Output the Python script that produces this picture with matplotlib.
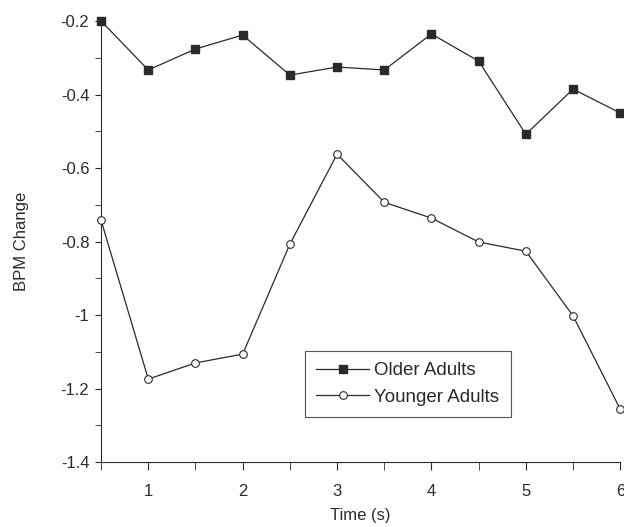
import matplotlib.pyplot as plt
from matplotlib.ticker import MultipleLocator, FixedLocator

plt.rcParams["font.family"] = ["Liberation Sans", "DejaVu Sans"]

# Time points (s)
time = [0.5, 1, 1.5, 2, 2.5, 3, 3.5, 4, 4.5, 5, 5.5, 6]

# BPM change for each group
older = [-0.200, -0.333, -0.276, -0.238, -0.347, -0.325,
         -0.333, -0.235, -0.309, -0.508, -0.385, -0.450]
younger = [-0.742, -1.174, -1.130, -1.106, -0.807, -0.562,
           -0.693, -0.736, -0.801, -0.826, -1.002, -1.256]

col = "#2a2a2a"

fig = plt.figure(figsize=(6.24, 5.27), dpi=100)
ax = fig.add_axes([0.162, 0.123, 0.832, 0.837])

ax.plot(time, older, color=col, lw=0.9, marker="s", ms=5.5,
        mfc=col, mec=col, label="Older Adults", clip_on=False, zorder=3)
ax.plot(time, younger, color=col, lw=0.9, marker="o", ms=5.5,
        mfc="white", mec=col, mew=0.8, label="Younger Adults",
        clip_on=False, zorder=3)

ax.set_xlim(0.5, 6)
ax.set_ylim(-1.4, -0.2)
ax.xaxis.set_major_locator(FixedLocator([1, 2, 3, 4, 5, 6]))
ax.xaxis.set_minor_locator(MultipleLocator(0.5))
ax.yaxis.set_major_locator(MultipleLocator(0.2))
ax.yaxis.set_minor_locator(MultipleLocator(0.1))
ax.set_yticklabels([f"{v:g}" for v in ax.get_yticks()])

for s in ["top", "right"]:
    ax.spines[s].set_visible(False)
for s in ["left", "bottom"]:
    ax.spines[s].set_color(col)
    ax.spines[s].set_linewidth(0.8)

ax.tick_params(which="major", direction="out", length=4.5, width=0.8,
               colors=col, labelsize=12)
ax.tick_params(which="minor", direction="out", length=4, width=0.6,
               colors=col)
ax.tick_params(axis="x", which="major", length=6, pad=10)
ax.tick_params(axis="x", which="minor", length=6)
ax.tick_params(axis="y", which="major", pad=4)

ax.set_xlabel("Time (s)", fontsize=12, color=col, labelpad=6)
ax.set_ylabel("BPM Change", fontsize=12, color=col, labelpad=23)

leg = ax.legend(loc="upper left", bbox_to_anchor=(0.393, 0.252),
                fontsize=13.5, frameon=True, fancybox=False,
                handlelength=2.8, handletextpad=0.3, borderpad=0.6,
                labelspacing=0.5, borderaxespad=0)
leg.get_frame().set_edgecolor(col)
leg.get_frame().set_linewidth(0.8)
for t in leg.get_texts():
    t.set_color(col)

fig.savefig("out.png", dpi=100)
